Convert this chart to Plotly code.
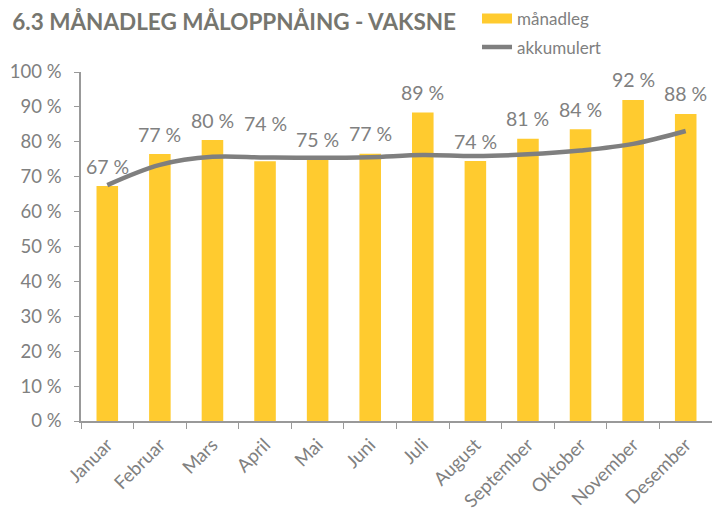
import plotly.graph_objects as go

months = ["Januar", "Februar", "Mars", "April", "Mai", "Juni", "Juli",
          "August", "September", "Oktober", "November", "Desember"]
monthly = [67.3, 76.5, 80.5, 74.4, 75.0, 76.6, 88.4, 74.5, 80.9, 83.6, 92.0, 88.0]
monthly_labels = ["67 %", "77 %", "80 %", "74 %", "75 %", "77 %", "89 %",
                  "74 %", "81 %", "84 %", "92 %", "88 %"]
cumulative = [67.6, 73.4, 75.7, 75.5, 75.4, 75.6, 76.2, 75.9, 76.4, 77.5, 79.4, 83.1]
y_ticks = [0, 10, 20, 30, 40, 50, 60, 70, 80, 90, 100]
y_tick_labels = [f"{v} %" for v in y_ticks]

GRAY = "#808080"
YELLOW = "#FFCB2F"
FONT = "Lato"

fig = go.Figure()
fig.add_trace(go.Bar(x=months, y=monthly, name="månadleg",
                     marker=dict(color=YELLOW, line=dict(width=0)),
                     showlegend=False, hoverinfo="skip"))
# legend-only entry drawn as a wide flat swatch, like the reference legend key
fig.add_trace(go.Scatter(x=[None], y=[None], name="månadleg", mode="lines",
                         line=dict(color=YELLOW, width=10),
                         legend="legend", showlegend=True, hoverinfo="skip"))
fig.add_trace(go.Scatter(x=months, y=cumulative, name="akkumulert", mode="lines",
                         line=dict(color="#7F7F7F", width=4.5, shape="spline", smoothing=1),
                         legend="legend2", showlegend=True, hoverinfo="skip"))

label_shift = [20] * len(months)
label_shift[3] = 38
for m, v, t, s in zip(months, monthly, monthly_labels, label_shift):
    fig.add_annotation(x=m, y=v, text=t, showarrow=False, yshift=s,
                       yanchor="middle", xanchor="center",
                       font=dict(family=FONT, size=19.5, color=GRAY))

# page is rendered with an 8px body margin, so the figure is 712x507
fig.update_layout(
    template="none",
    width=712, height=507,
    margin=dict(l=73, r=8, t=64, b=94, autoexpand=False),
    plot_bgcolor="white", paper_bgcolor="white",
    bargap=0.59,
    showlegend=True,
    font=dict(family=FONT, color=GRAY),
    title=dict(text="<b>6.3 MÅNADLEG MÅLOPPNÅING - VAKSNE</b>", x=0.006, xanchor="left",
               y=0.972, yanchor="middle",
               font=dict(family=FONT, size=22.5, color="#76766F")),
    legend=dict(x=0.6276, y=1.152, xanchor="left", yanchor="middle",
                font=dict(family=FONT, size=17, color=GRAY),
                bgcolor="rgba(0,0,0,0)", itemwidth=30, borderwidth=0),
    legend2=dict(x=0.6276, y=1.07, xanchor="left", yanchor="middle",
                 font=dict(family=FONT, size=17, color=GRAY),
                 bgcolor="rgba(0,0,0,0)", itemwidth=30, borderwidth=0),
    xaxis=dict(type="category", showgrid=False, showline=True, linecolor="#999999",
               linewidth=1.5, ticks="outside", tickson="boundaries", ticklen=6,
               tickcolor="#999999", tickangle=-45, automargin=False,
               ticklabelstandoff=4,
               tickfont=dict(family=FONT, size=18.5, color=GRAY)),
    yaxis=dict(range=[0, 100], tickvals=y_ticks, ticktext=y_tick_labels,
               showgrid=False, showline=True, linecolor="#999999", linewidth=1.5,
               ticks="outside", ticklen=5, tickcolor="#999999", zeroline=False,
               automargin=False, ticklabelstandoff=9,
               tickfont=dict(family=FONT, size=18.5, color=GRAY)),
)

fig.write_html("out.html")
